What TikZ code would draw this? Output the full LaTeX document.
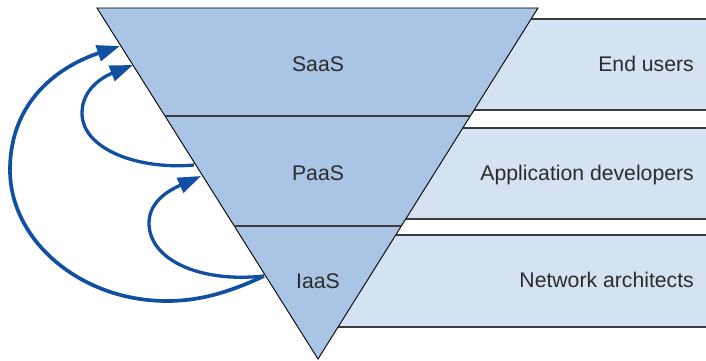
\documentclass[tikz,border=0pt]{standalone}
\usepackage{fontspec}
\setmainfont{Liberation Sans}
\usetikzlibrary{arrows.meta,calc}
\definecolor{tri}{HTML}{A9C4E4}
\definecolor{band}{HTML}{D5E2F2}
\definecolor{arr}{HTML}{1150A0}
\definecolor{txt}{HTML}{2B2B2B}
\definecolor{sep}{HTML}{3C3C3C}
\begin{document}
\begin{tikzpicture}[x=1pt,y=-1pt,
  bandbox/.style={fill=band,draw=sep,line width=1.3pt},
  lbl/.style={text=txt,font=\fontsize{21.2}{25}\selectfont,inner sep=0pt},
  flow/.style={draw=arr,line width=3pt,-{Triangle[length=23pt,width=16pt]}}]
\clip (0,0) rectangle (706,361);
\fill[white] (0,0) rectangle (706,361);
% bands
\path[bandbox] (300,19) rectangle (720,110);
\path[bandbox] (300,128) rectangle (720,219);
\path[bandbox] (320,235) rectangle (720,327);
% triangle
\coordinate (tl) at (97,8);
\coordinate (tr) at (538,8);
\coordinate (ap) at (318,359);
\path[fill=tri,draw=black,line width=0.9pt] (tl) -- (tr) -- (ap) -- cycle;
\draw[sep,line width=1.3pt] ($(tl)!0.3077!(ap)$) -- ($(tr)!0.3077!(ap)$);
\draw[sep,line width=1.3pt] ($(tl)!0.621!(ap)$) -- ($(tr)!0.621!(ap)$);
% labels
\node[lbl,anchor=base] (saas) at (318,71) {SaaS};
\node[lbl,anchor=base] (paas) at (318,180) {PaaS};
\node[lbl,anchor=base] (iaas) at (318,288) {IaaS};
\node[lbl,anchor=base east] (end) at (694,71) {End users};
\node[lbl,anchor=base east] (dev) at (694,180) {Application developers};
\node[lbl,anchor=base east] (net) at (694,287) {Network architects};
% arrow endpoints on the left edge
\coordinate (iaasL) at (264,276);
\coordinate (paasL) at (194,165);
\coordinate (saasA) at (120,46);
\coordinate (saasB) at (133,65);
\coordinate (paasA) at (201,176);
% arrows
\draw[flow,line width=3.7pt] (iaasL) .. controls (230,292) and (200,301) .. (167,301)
  .. controls (80,301) and (10,240) .. (10,170)
  .. controls (10,100) and (60,66) .. (saasA);
\draw[flow,line width=3.3pt] (paasL) .. controls (140,170) and (82,150) .. (82,113)
  .. controls (82,88) and (105,76) .. (saasB);
\draw[flow,line width=3.3pt] (iaasL) .. controls (200,283) and (149,260) .. (149,223)
  .. controls (149,200) and (172,189) .. (paasA);
\end{tikzpicture}
\end{document}
